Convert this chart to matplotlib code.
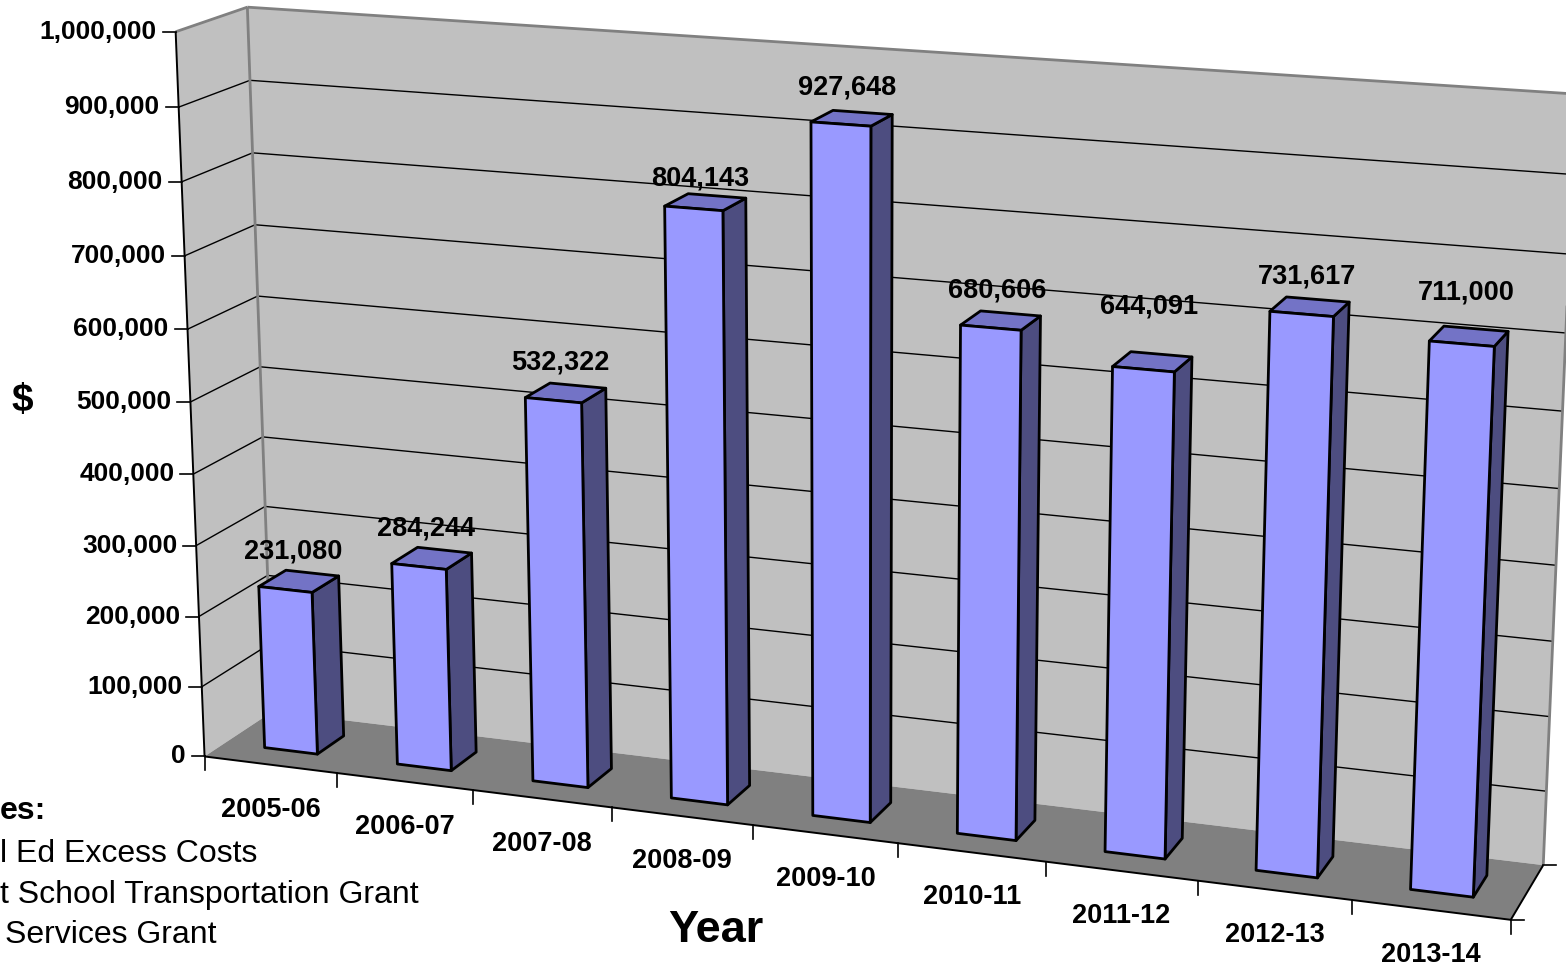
import numpy as np
import matplotlib
matplotlib.use("Agg")
import matplotlib.pyplot as plt
from matplotlib.patches import Polygon

# ---- data -------------------------------------------------------------
years = ["2005-06", "2006-07", "2007-08", "2008-09", "2009-10",
         "2010-11", "2011-12", "2012-13", "2013-14"]
amounts = [231080, 284244, 532322, 804143, 927648,
           680606, 644091, 731617, 711000]
value_ticks = [0, 100000, 200000, 300000, 400000, 500000,
               600000, 700000, 800000, 900000, 1000000]
note_lines = ["es:", "l Ed Excess Costs", "t School Transportation Grant",
              "Services Grant"]

# ---- layout / style ---------------------------------------------------
W, H = 1566, 966
Y_MAX = 1_000_000
N = len(years)
BAR_X = (0.30, 0.70)      # bar extent inside a category slot
BAR_Z = (0.30, 0.70)      # bar extent in depth (0 = front, 1 = back)
# extra lift (px) for data labels that were moved by hand
label_lift = [0, 0, 0, -7, 0, 0, 25, 0, 13]

WALL = "#C0C0C0"
FLOOR = "#808080"
EDGE_GRAY = "#808080"
FRONT = "#9999FF"
SIDE = "#4D4D80"
TOP = "#7373C6"

plt.rcParams["font.family"] = ["Liberation Sans", "DejaVu Sans"]

# Perspective camera: the plot box corners (slot, height fraction, depth)
# are pinned to canvas positions and a 3x4 projective matrix is solved.
box_world = [(0, 0, 0), (0, 1, 0), (0, 0, 1), (0, 1, 1),
             (N, 0, 0), (N, 0, 1), (N, 1, 1)]
box_canvas = [(204, 757), (176, 32), (273, 711), (247, 7),
              (1511, 919), (1543, 866), (1576, 94)]


def solve_camera(world, canvas):
    rows, rhs = [], []
    for (X, Y, Z), (u, v) in zip(world, canvas):
        rows.append([X, Y, Z, 1, 0, 0, 0, 0, -u * X, -u * Y, -u * Z])
        rhs.append(u)
        rows.append([0, 0, 0, 0, X, Y, Z, 1, -v * X, -v * Y, -v * Z])
        rhs.append(v)
    p, *_ = np.linalg.lstsq(np.array(rows, float), np.array(rhs, float),
                            rcond=None)
    return np.append(p, 1.0).reshape(3, 4)


CAM = solve_camera(box_world, box_canvas)


def proj(x, value, z):
    w = CAM @ np.array([x, value / Y_MAX, z, 1.0])
    return w[0] / w[2], w[1] / w[2]


def face(ax, pts, fc, ec, lw, zorder):
    ax.add_patch(Polygon([proj(*p) for p in pts], closed=True, facecolor=fc,
                         edgecolor=ec, linewidth=lw, joinstyle="round",
                         zorder=zorder))


def seg(ax, a, b, color, lw, zorder):
    (x0, y0), (x1, y1) = proj(*a), proj(*b)
    ax.plot([x0, x1], [y0, y1], color=color, lw=lw, zorder=zorder,
            solid_capstyle="butt")


fig = plt.figure(figsize=(W / 100, H / 100), dpi=100)
ax = fig.add_axes([0, 0, 1, 1])
ax.set_xlim(0, W)
ax.set_ylim(H, 0)
ax.axis("off")

# walls and floor
face(ax, [(0, 0, 1), (N, 0, 1), (N, Y_MAX, 1), (0, Y_MAX, 1)], WALL, "none", 0, 1)
face(ax, [(0, 0, 0), (0, 0, 1), (0, Y_MAX, 1), (0, Y_MAX, 0)], WALL, "none", 0, 1)
face(ax, [(0, 0, 0), (N, 0, 0), (N, 0, 1), (0, 0, 1)], FLOOR, "none", 0, 1)

# gridlines on both walls
for t in value_ticks[1:-1]:
    seg(ax, (0, t, 0), (0, t, 1), "black", 1.0, 2)
    seg(ax, (0, t, 1), (N, t, 1), "black", 1.0, 2)

# wall borders
seg(ax, (0, Y_MAX, 0), (0, Y_MAX, 1), EDGE_GRAY, 2.0, 3)
seg(ax, (0, Y_MAX, 1), (N, Y_MAX, 1), EDGE_GRAY, 2.0, 3)
seg(ax, (0, 0, 1), (0, Y_MAX, 1), EDGE_GRAY, 2.0, 3)
seg(ax, (N, 0, 1), (N, Y_MAX, 1), EDGE_GRAY, 2.0, 3)

# axis lines
seg(ax, (0, 0, 0), (0, Y_MAX, 0), "black", 1.4, 4)
seg(ax, (0, 0, 0), (N, 0, 0), "black", 1.4, 4)
seg(ax, (N, 0, 0), (N, 0, 1), "black", 1.4, 4)

# value axis ticks and labels
for t in value_ticks:
    x, y = proj(0, t, 0)
    ax.plot([x - 13, x], [y, y], color="black", lw=1.2, zorder=4)
    ax.text(x - 19, y, f"{t:,}", ha="right", va="center",
            fontsize=19, fontweight="bold", zorder=5)

# category ticks and labels
for i in range(N + 1):
    x, y = proj(i, 0, 0)
    ax.plot([x, x], [y, y + 14], color="black", lw=1.2, zorder=4)
for i, lab in enumerate(years):
    x, y = proj(i + 0.5, 0, 0)
    ax.text(x, y + 45, lab, ha="center", va="center",
            fontsize=19.5, fontweight="bold", zorder=5)

# depth axis ticks at the right end of the floor
for z in (0, 1):
    x, y = proj(N, 0, z)
    ax.plot([x, x + 13], [y, y], color="black", lw=1.2, zorder=4)

# bars
x0, x1 = BAR_X
z0, z1 = BAR_Z
for i, v in enumerate(amounts):
    a, b = i + x0, i + x1
    face(ax, [(b, 0, z0), (b, 0, z1), (b, v, z1), (b, v, z0)], SIDE, "black", 2.0, 6)
    face(ax, [(a, v, z0), (b, v, z0), (b, v, z1), (a, v, z1)], TOP, "black", 2.0, 6)
    face(ax, [(a, 0, z0), (b, 0, z0), (b, v, z0), (a, v, z0)], FRONT, "black", 2.0, 6)
    lx, ly = proj(i + 0.5, v, 0.4)
    ax.text(lx + 1, ly - 34 - label_lift[i], f"{v:,}", ha="center",
            va="center", fontsize=19.5, fontweight="bold", zorder=7)

# axis titles
ax.text(22, 401, "$", ha="center", va="center", fontsize=28, fontweight="bold")
ax.text(716, 931, "Year", ha="center", va="center", fontsize=32.5,
        fontweight="bold")

# notes block at the lower left
ax.text(0, 811, note_lines[0], ha="left", va="center", fontsize=23,
        fontweight="bold")
for k, line in enumerate(note_lines[1:]):
    ax.text(5 if k == 2 else 0, 854 + 40.5 * k, line, ha="left", va="center",
            fontsize=23)

fig.savefig("out.png", dpi=100)
